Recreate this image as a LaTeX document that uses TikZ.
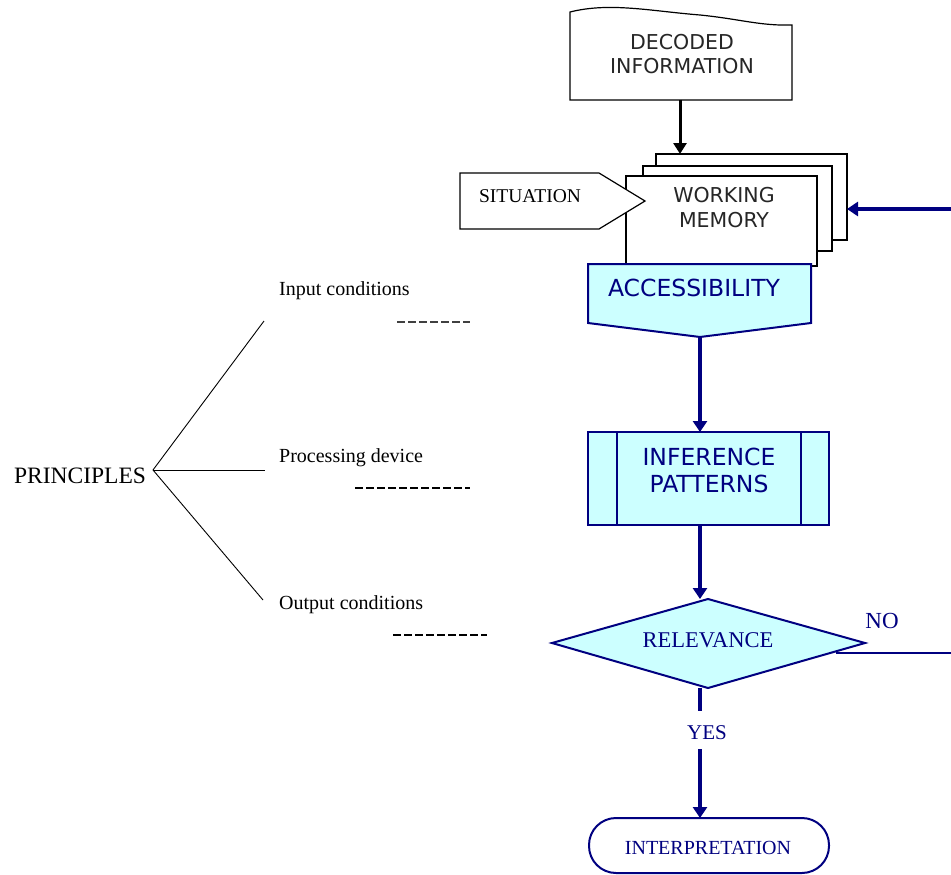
\documentclass[tikz,border=0pt]{standalone}
\usepackage{fontspec}
\setmainfont{Liberation Serif}
\newfontfamily\boxfont{DejaVu Sans}
\usetikzlibrary{arrows.meta}
\definecolor{navy}{RGB}{0,0,128}
\definecolor{paleblue}{RGB}{204,255,255}
\tikzset{
  lbl/.style={inner sep=0pt, anchor=base},
  sanslbl/.style={lbl, text=black!85, font=\boxfont\fontsize{20.5}{24.5}\selectfont, align=center},
  bluesans/.style={lbl, text=navy, font=\boxfont\fontsize{23.5}{27}\selectfont, align=center},
  blueserif/.style={lbl, text=navy, font=\fontsize{21}{24}\selectfont},
  note/.style={inner sep=0pt, anchor=base west, font=\fontsize{20}{24}\selectfont},
  paper/.style={draw=black, line width=1.2pt, fill=white},
  flowbox/.style={draw=navy, line width=2pt, fill=paleblue},
  navyarrow/.style={draw=navy, line width=3.5pt, -{Triangle[length=11pt,width=14pt]}},
  navyline/.style={draw=navy, line width=3.5pt},
  blackarrow/.style={draw=black, line width=3pt, -{Triangle[length=11pt,width=13pt]}},
  branch/.style={draw=black, line width=0.9pt},
  gapline/.style={draw=black!75, dash pattern=on 8pt off 3pt}
}
\begin{document}
\begin{tikzpicture}[x=1pt,y=-1pt]
\useasboundingbox (0,0) rectangle (951,875);
\fill[white] (0,0) rectangle (951,875);

% ---- decoded information (document shape)
\draw[paper] (570,100) -- (570,12)
  .. controls (610,2) and (650,11) .. (700,15)
  .. controls (740,19) and (760,26) .. (792,25) -- (792,100) -- cycle;
\node[sanslbl] (decoded) at (682,74) {DECODED\\INFORMATION};
\coordinate (dec-s) at (680,100);
\coordinate (wm-n) at (680,154);

% ---- working memory (stack of sheets)
\draw[paper] (656,154) rectangle (847,240);
\draw[paper] (643,166) rectangle (832,251);
\draw[paper] (626,176) rectangle (817,266);
\node[sanslbl] (wm) at (724,227) {WORKING\\MEMORY};
\coordinate (wm-e) at (847,209);

% ---- situation (pointer shape)
\draw[paper] (460,173) -- (599,173) -- (645,201) -- (599,229) -- (460,229) -- cycle;
\node[lbl, font=\fontsize{19.5}{24}\selectfont] (situation) at (530,202) {SITUATION};

% ---- accessibility (off-page connector)
\draw[flowbox] (588,264) -- (811,264) -- (811,323) -- (700,337) -- (588,323) -- cycle;
\node[bluesans] (access) at (694,296) {ACCESSIBILITY};
\coordinate (acc-s) at (700,337);

% ---- inference patterns (predefined process)
\draw[flowbox] (588,432) rectangle (829,525);
\draw[navy, line width=2pt] (617,432) -- (617,525) (801,432) -- (801,525);
\node[bluesans] (infer) at (709,492) {INFERENCE\\PATTERNS};
\coordinate (inf-n) at (700,432);
\coordinate (inf-s) at (700,525);

% ---- relevance (decision)
\draw[flowbox] (552,643) -- (708,599) -- (865,643) -- (708,688) -- cycle;
\node[blueserif, font=\fontsize{22.5}{26}\selectfont] (relev) at (708,647) {RELEVANCE};
\coordinate (rel-n) at (700,599);
\coordinate (rel-s) at (700,688);
\coordinate (rel-e) at (836,653);

% ---- interpretation (terminal)
\draw[navy, line width=2pt, fill=white, rounded corners=27pt] (589,818) rectangle (829,873);
\node[blueserif, font=\fontsize{20}{24}\selectfont] (interp) at (708,854) {INTERPRETATION};
\coordinate (int-n) at (700,818);

% ---- connectors
\draw[blackarrow] (dec-s) -- (wm-n);
\draw[navyarrow] (acc-s) -- (inf-n);
\draw[navyarrow] (inf-s) -- (rel-n);
\node[blueserif] (yes) at (707,739) {YES};
\coordinate (yes-top) at (700,711);
\coordinate (yes-bot) at (700,749);
\draw[navyline] (rel-s) -- (yes-top);
\draw[navyarrow] (yes-bot) -- (int-n);
\node[blueserif, font=\fontsize{23}{26}\selectfont] (no) at (882,628) {NO};
% loop back to working memory (runs past the right border)
\coordinate (loop-a) at (960,653);
\coordinate (loop-b) at (960,209);
\draw[navy, line width=2.2pt] (rel-e) -- (loop-a) -- (loop-b);
\draw[navyarrow] (loop-b) -- (wm-e);

% ---- principles tree
\node[lbl, font=\fontsize{23.5}{26}\selectfont] (principles) at (80,483) {PRINCIPLES};
\coordinate (root) at (153,470);
\coordinate (br-in) at (264,321);
\coordinate (br-proc) at (265,470);
\coordinate (br-out) at (263,600);
\draw[branch] (br-in) -- (root) -- (br-out);
\draw[branch] (root) -- (br-proc);
\node[note] (incond) at (279,295) {Input conditions};
\node[note] (procdev) at (279,462) {Processing device};
\node[note] (outcond) at (279,609) {Output conditions};
\coordinate (d1a) at (397,322); \coordinate (d1b) at (470,322);
\coordinate (d2a) at (355,488); \coordinate (d2b) at (470,488);
\coordinate (d3a) at (393,635); \coordinate (d3b) at (487,635);
\draw[gapline, line width=1.6pt] (d1a) -- (d1b);
\draw[gapline, draw=black, line width=2.6pt] (d2a) -- (d2b);
\draw[gapline, draw=black, line width=2.6pt] (d3a) -- (d3b);
\end{tikzpicture}
\end{document}
